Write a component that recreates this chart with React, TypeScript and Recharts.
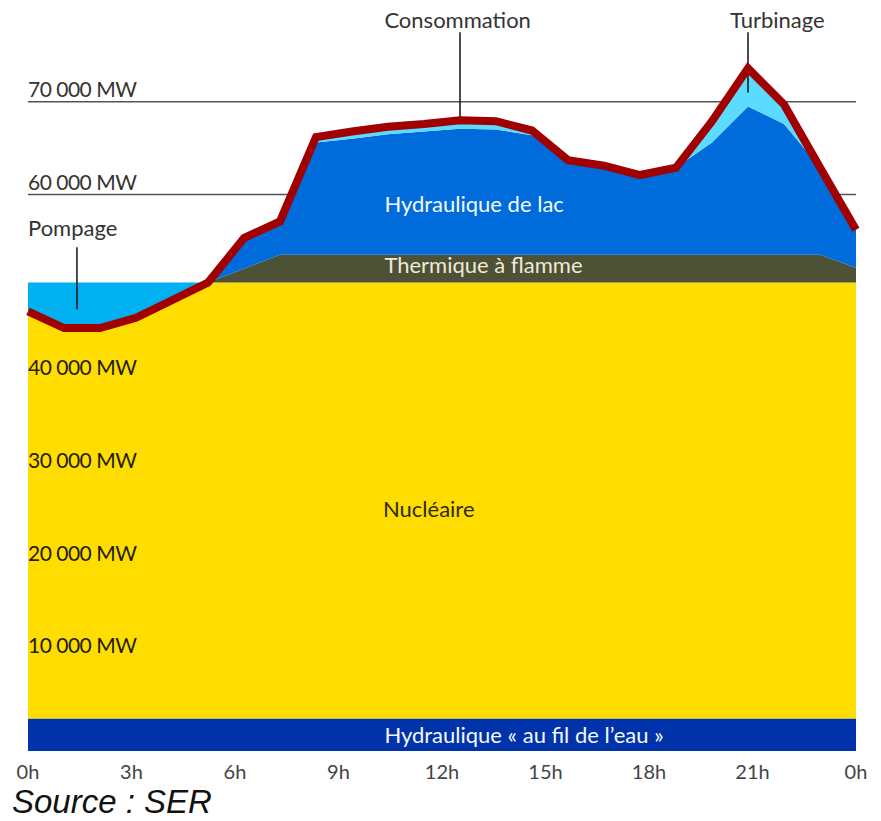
import React from 'react'
import {
  ComposedChart, Area, Line, XAxis, YAxis, CartesianGrid, ReferenceLine, ReferenceDot,
} from 'recharts'

// hourly samples, index 0..23 (MW)
const hours = [0, 1, 2, 3, 4, 5, 6, 7, 8, 9, 10, 11, 12, 13, 14, 15, 16, 17, 18, 19, 20, 21, 22, 23]
const consommation = [47400, 45600, 45600, 46700, 48600, 50500, 55300, 57100, 66200, 66800, 67300, 67600, 68000, 67900, 66900, 63700, 63100, 62100, 62900, 67900, 73600, 69700, 62900, 56200]
const filDeLeau = [3500, 3500, 3500, 3500, 3500, 3500, 3500, 3500, 3500, 3500, 3500, 3500, 3500, 3500, 3500, 3500, 3500, 3500, 3500, 3500, 3500, 3500, 3500, 3500]
const nucleaire = [43900, 42100, 42100, 43200, 45100, 47000, 47000, 47000, 47000, 47000, 47000, 47000, 47000, 47000, 47000, 47000, 47000, 47000, 47000, 47000, 47000, 47000, 47000, 47000]
const pompage = [3100, 4900, 4900, 3800, 1900, 0, 0, 0, 0, 0, 0, 0, 0, 0, 0, 0, 0, 0, 0, 0, 0, 0, 0, 0]
const thermique = [0, 0, 0, 0, 0, 0, 1500, 3000, 3000, 3000, 3000, 3000, 3000, 3000, 3000, 3000, 3000, 3000, 3000, 3000, 3000, 3000, 3000, 1600]
const lac = [0, 0, 0, 0, 0, 0, 3300, 3600, 12100, 12500, 13000, 13300, 13600, 13500, 12900, 10200, 9600, 8600, 9400, 12100, 16000, 14100, 9400, 4100]
const turbinage = [0, 0, 0, 0, 0, 0, 0, 0, 600, 800, 800, 800, 900, 900, 500, 0, 0, 0, 0, 2300, 4100, 2100, 0, 0]

const xTickLabels = ['0h', '3h', '6h', '9h', '12h', '15h', '18h', '21h', '0h']
const yLabels = [10000, 20000, 30000, 40000, 60000, 70000]
const gridValues = [60000, 70000]

const notes = [
  { x: 9.9, y: 78000, text: 'Consommation', fill: '#333' },
  { x: 19.5, y: 78000, text: 'Turbinage', fill: '#333' },
  { x: 0, y: 55500, text: 'Pompage', fill: '#333' },
  { x: 9.9, y: 58100, text: 'Hydraulique de lac', fill: '#f4f9ff' },
  { x: 9.9, y: 51500, text: 'Thermique à flamme', fill: '#efe9d6' },
  { x: 9.86, y: 25200, text: 'Nucléaire', fill: '#2e2c08' },
  { x: 9.9, y: 860, text: 'Hydraulique « au fil de l’eau »', fill: '#f4f9ff' },
]

const leaders = [
  { x: 12, y1: 77500, y2: 68300 },
  { x: 20, y1: 77500, y2: 71000 },
  { x: 1.36, y1: 54300, y2: 47600 },
]

const data = hours.map((h, i) => ({
  h,
  fil: filDeLeau[i],
  nuc: nucleaire[i],
  pomp: pompage[i],
  therm: thermique[i],
  lac: lac[i],
  turb: turbinage[i],
  conso: consommation[i],
}))

const FONT = 'Lato, sans-serif'

const fmtMW = (v: number) => String(v).replace(/(\d+)(\d{3})$/, '$1 $2') + ' MW'

export default function App() {
  const xTicks = xTickLabels.map((_, i) => (i * 23) / 8)
  return (
    <div style={{ position: 'absolute', left: 0, top: 0, width: 881, height: 821, background: '#fff' }}>
      <ComposedChart width={881} height={790} data={data}
        margin={{ top: 9, right: 25, left: 28, bottom: 10 }}>
        <CartesianGrid horizontal vertical={false} horizontalValues={gridValues} stroke="#555" strokeWidth={1.5} />
        <XAxis dataKey="h" type="number" domain={[0, 23]} ticks={xTicks} interval={0}
          tickFormatter={(v: number) => xTickLabels[Math.round((v * 8) / 23)]}
          axisLine={false} tickLine={false} tickSize={0} tickMargin={14} height={29}
          tick={{ fontFamily: FONT, fontSize: 20, fill: '#444' }} />
        <YAxis type="number" domain={[0, 80000]} hide width={0} />
        <Area type="linear" dataKey="fil" stackId="1" stroke="none" fill="#0033AA" fillOpacity={1} isAnimationActive={false} />
        <Area type="linear" dataKey="nuc" stackId="1" stroke="none" fill="#FFDD00" fillOpacity={1} isAnimationActive={false} />
        <Area type="linear" dataKey="pomp" stackId="1" stroke="none" fill="#00B0F0" fillOpacity={1} isAnimationActive={false} />
        <Area type="linear" dataKey="therm" stackId="1" stroke="none" fill="#4D5135" fillOpacity={1} isAnimationActive={false} />
        <Area type="linear" dataKey="lac" stackId="1" stroke="none" fill="#006BDB" fillOpacity={1} isAnimationActive={false} />
        <Area type="linear" dataKey="turb" stackId="1" stroke="none" fill="#5BDBFF" fillOpacity={1} isAnimationActive={false} />
        {leaders.map((l, i) => (
          <ReferenceLine key={'l' + i} segment={[{ x: l.x, y: l.y1 }, { x: l.x, y: l.y2 }]}
            stroke="#111" strokeWidth={1.5} ifOverflow="visible" />
        ))}
        <Line type="linear" dataKey="conso" stroke="#A00000" strokeWidth={8} dot={false} isAnimationActive={false} />
        {yLabels.map((v) => (
          <ReferenceDot key={'y' + v} x={0} y={v} r={0} ifOverflow="visible"
            shape={(p: any) => (
              <text x={p.cx} y={p.cy - 5} fontFamily={FONT} fontSize={21} letterSpacing={-0.5}
                fill={v < 50000 ? '#1f1d05' : '#333'}>{fmtMW(v)}</text>
            )} />
        ))}
        {notes.map((n, i) => (
          <ReferenceDot key={'n' + i} x={n.x} y={n.y} r={0} ifOverflow="visible"
            shape={(p: any) => (
              <text x={p.cx} y={p.cy} fontFamily={FONT} fontSize={22} fill={n.fill}>{n.text}</text>
            )} />
        ))}
      </ComposedChart>
      <div style={{
        position: 'absolute', left: 12, top: 784, fontFamily: '"Liberation Sans", Arial, sans-serif',
        fontStyle: 'italic', fontSize: 33, lineHeight: '36px', color: '#111',
      }}>
        Source : SER
      </div>
    </div>
  )
}
